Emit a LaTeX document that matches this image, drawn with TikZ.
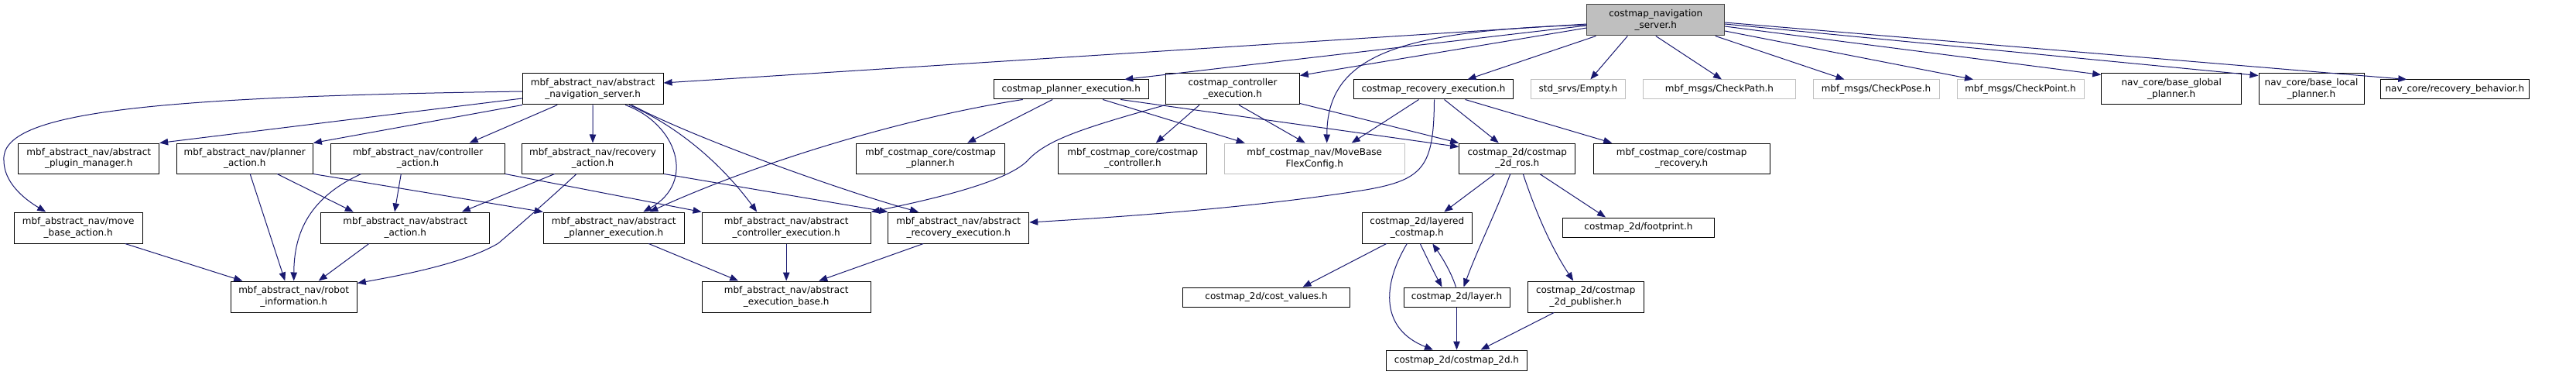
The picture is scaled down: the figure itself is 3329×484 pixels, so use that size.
\documentclass[tikz,border=0pt]{standalone}
\usepackage{fontspec}
\setmainfont{DejaVu Sans}
\usetikzlibrary{arrows.meta,calc}
\definecolor{navy}{HTML}{191970}
\definecolor{lgray}{HTML}{BFBFBF}
\definecolor{dgray}{HTML}{404040}
\begin{document}
\begin{tikzpicture}[x=1pt,y=-1pt,
  box/.style={draw=black,line width=1pt,fill=white,align=center,inner sep=0pt,font=\fontsize{12}{14.5}\selectfont},
  gbox/.style={box,draw=lgray},
  rbox/.style={box,draw=dgray,fill=lgray},
  wh/.style 2 args={minimum width=#1pt,minimum height=#2pt},
  dep/.style={draw=navy,line width=1pt,-{Triangle[length=11pt,width=8.5pt]}}]
\useasboundingbox[fill=white] (0,0) rectangle (3329,484);

% row 0
\node[rbox,wh={177.7}{40}] (root) at (2139.8,26) {costmap\_navigation\\\_server.h};
% row 1
\node[box,wh={181.7}{40}] (ans) at (766.2,115) {mbf\_abstract\_nav/abstract\\\_navigation\_server.h};
\node[box,wh={200.3}{25}] (cpe) at (1384.2,115.5) {costmap\_planner\_execution.h};
\node[box,wh={172.6}{40}] (cce) at (1593,115) {costmap\_controller\\\_execution.h};
\node[box,wh={206.4}{25}] (cre) at (1852.5,115.5) {costmap\_recovery\_execution.h};
\node[gbox,wh={122}{25}] (empty) at (2039.3,115.5) {std\_srvs/Empty.h};
\node[gbox,wh={197.4}{25}] (cpath) at (2222,115.5) {mbf\_msgs/CheckPath.h};
\node[gbox,wh={163}{25}] (cpose) at (2424.5,115.5) {mbf\_msgs/CheckPose.h};
\node[gbox,wh={164}{25}] (cpoint) at (2611,115.5) {mbf\_msgs/CheckPoint.h};
\node[box,wh={181}{40}] (bgp) at (2806.2,115) {nav\_core/base\_global\\\_planner.h};
\node[box,wh={136}{40}] (blp) at (2987,115) {nav\_core/base\_local\\\_planner.h};
\node[box,wh={192}{25}] (rb) at (3172.3,115.5) {nav\_core/recovery\_behavior.h};
% row 2
\node[box,wh={181.7}{39}] (pm) at (114.8,204.5) {mbf\_abstract\_nav/abstract\\\_plugin\_manager.h};
\node[box,wh={176.3}{39}] (pa) at (316.2,204.5) {mbf\_abstract\_nav/planner\\\_action.h};
\node[box,wh={224.6}{39}] (ca) at (540,204.5) {mbf\_abstract\_nav/controller\\\_action.h};
\node[box,wh={183.4}{39}] (ra) at (766,204.5) {mbf\_abstract\_nav/recovery\\\_action.h};
\node[box,wh={191.6}{39}] (ccp) at (1202.5,204.5) {mbf\_costmap\_core/costmap\\\_planner.h};
\node[box,wh={191.7}{39}] (ccc) at (1463.8,204.5) {mbf\_costmap\_core/costmap\\\_controller.h};
\node[gbox,wh={233.3}{39}] (mbfc) at (1698.7,204.5) {mbf\_costmap\_nav/MoveBase\\FlexConfig.h};
\node[box,wh={150.3}{39}] (ros) at (1960.8,204.5) {costmap\_2d/costmap\\\_2d\_ros.h};
\node[box,wh={228.3}{39}] (ccr) at (2173.2,204.5) {mbf\_costmap\_core/costmap\\\_recovery.h};
% row 3
\node[box,wh={165.7}{40}] (mba) at (101.2,294) {mbf\_abstract\_nav/move\\\_base\_action.h};
\node[box,wh={218.3}{40}] (aa) at (523.8,294) {mbf\_abstract\_nav/abstract\\\_action.h};
\node[box,wh={182}{40}] (ape) at (793.3,294) {mbf\_abstract\_nav/abstract\\\_planner\_execution.h};
\node[box,wh={218.3}{40}] (ace) at (1016.2,294) {mbf\_abstract\_nav/abstract\\\_controller\_execution.h};
\node[box,wh={182}{40}] (are) at (1238.7,294) {mbf\_abstract\_nav/abstract\\\_recovery\_execution.h};
\node[box,wh={142}{40}] (lc) at (1831.3,294) {costmap\_2d/layered\\\_costmap.h};
\node[box,wh={196.4}{25}] (fp) at (2117.5,293.5) {costmap\_2d/footprint.h};
% row 4
\node[box,wh={163.3}{40}] (ri) at (379.7,383) {mbf\_abstract\_nav/robot\\\_information.h};
\node[box,wh={218.3}{40}] (aeb) at (1016.2,383) {mbf\_abstract\_nav/abstract\\\_execution\_base.h};
\node[box,wh={216.4}{25}] (cv) at (1636.5,383.5) {costmap\_2d/cost\_values.h};
\node[box,wh={137}{25}] (ly) at (1882.5,383.5) {costmap\_2d/layer.h};
\node[box,wh={150.3}{40}] (pub) at (2049.2,383) {costmap\_2d/costmap\\\_2d\_publisher.h};
% row 5
\node[box,wh={182.4}{26}] (c2d) at (1882.5,465) {costmap\_2d/costmap\_2d.h};

% edges from root
\draw[dep] ($(root.west)+(0,5)$) -- ($(ans.east)+(0,-8)$);
\draw[dep] ($(root.west)+(0,7)$) -- ($(cpe.north)+(69,0)$);
\draw[dep] ($(root.west)+(0,10)$) -- ($(cce.north east)+(0,3)$);
\draw[dep] ($(root.west)+(0,6)$) .. controls (1810,40) and (1715,70) .. ($(mbfc.north)+(16,0)$);
\draw[dep] ($(root.south west)+(12,0)$) -- ($(cre.north)+(44,0)$);
\draw[dep] ($(root.south)+(-36.5,0)$) -- ($(empty.north)+(16,0)$);
\draw[dep] (root.south) -- ($(cpath.north)+(3,0)$);
\draw[dep] ($(root.south)+(77,0)$) -- ($(cpose.north)+(-41,0)$);
\draw[dep] ($(root.east)+(0,14)$) -- ($(cpoint.north)+(-61,0)$);
\draw[dep] ($(root.east)+(0,8)$) -- ($(bgp.north west)+(0,2)$);
\draw[dep] ($(root.east)+(0,5)$) -- ($(blp.north west)+(0,3)$);
\draw[dep] ($(root.east)+(0,3)$) -- ($(rb.north)+(-62,0)$);

% edges from abstract_navigation_server
\draw[dep] ($(ans.west)+(0,3)$) .. controls (190,125) and (0,145) .. (5,207)
  .. controls (5,235) and (30,256) .. ($(mba.north)+(-42,0)$);
\draw[dep] ($(ans.west)+(0,12)$) -- (pm.north east);
\draw[dep] (ans.south west) -- (pa.north east);
\draw[dep] ($(ans.south)+(-46,0)$) -- ($(ca.north)+(66.7,0)$);
\draw[dep] (ans.south) -- (ra.north);
\draw[dep] ($(ans.south)+(42,0)$) .. controls (875,160) and (900,235) .. ($(ape.north)+(38,0)$);
\draw[dep] ($(ans.south)+(47,0)$) .. controls (880,165) and (935,215) .. ($(ace.north)+(-38,0)$);
\draw[dep] ($(ans.south)+(50,0)$) .. controls (900,180) and (1100,250) .. ($(are.north)+(-51.7,0)$);

% planner / controller / recovery action
\draw[dep] ($(pa.south)+(7,0)$) -- ($(ri.north)+(-11.4,0)$);
\draw[dep] ($(pa.south)+(42,0)$) -- ($(aa.north)+(-67,0)$);
\draw[dep] (pa.south east) -- (ape.north west);
\draw[dep] ($(ca.south)+(-73.3,0)$) .. controls (400,255) and (380,300) .. (ri.north);
\draw[dep] ($(ca.south)+(-21.7,0)$) -- ($(aa.north)+(-13.8,0)$);
\draw[dep] (ca.south east) -- (ace.north west);
\draw[dep] ($(ra.south)+(-49.3,0)$) -- ($(aa.north)+(73,0)$);
\draw[dep] ($(ra.south)+(-21,0)$) .. controls (710,257) and (672,290) .. (644,314)
  .. controls (600,340) and (520,355) .. ($(ri.north east)+(0,3)$);
\draw[dep] (ra.south east) -- (are.north west);
\draw[dep] ($(mba.south)+(60.5,0)$) -- ($(ri.north)+(-66.4,0)$);
\draw[dep] ($(aa.south)+(-47,0)$) -- ($(ri.north)+(32,0)$);

% executions
\draw[dep] ($(ape.south)+(45,0)$) -- ($(aeb.north)+(-62,0)$);
\draw[dep] (ace.south) -- (aeb.north);
\draw[dep] ($(are.south)+(-45.4,0)$) -- ($(aeb.north)+(42,0)$);

% costmap planner execution
\draw[dep] ($(cpe.south)+(-62.5,0)$) .. controls (1180,150) and (990,205) .. ($(ape.north)+(46,0)$);
\draw[dep] ($(cpe.south)+(-24,0)$) -- ($(ccp.north)+(47.5,0)$);
\draw[dep] ($(cpe.south)+(41,0)$) -- ($(mbfc.north)+(-90,0)$);
\draw[dep] ($(cpe.south)+(64,0)$) -- ($(ros.north west)+(0,5)$);

% costmap controller execution
\draw[dep] (cce.south west) .. controls (1400,165) and (1355,180) .. (1330,205)
  .. controls (1305,235) and (1200,258) .. (ace.north east);
\draw[dep] ($(cce.south)+(-43,0)$) -- ($(ccc.north)+(30,0)$);
\draw[dep] ($(cce.south)+(8,0)$) -- ($(mbfc.north)+(-12,0)$);
\draw[dep] ($(cce.south east)+(0,-2)$) -- (ros.north west);

% costmap recovery execution
\draw[dep] ($(cre.south)+(-19,0)$) -- ($(mbfc.north)+(48,0)$);
\draw[dep] ($(cre.south)+(14,0)$) -- ($(ros.north)+(-24,0)$);
\draw[dep] ($(cre.south)+(41,0)$) -- ($(ccr.north)+(-90,0)$);
\draw[dep] ($(cre.south)+(1,0)$) .. controls (1853,215) and (1840,232) .. (1765,245)
  .. controls (1620,268) and (1450,280) .. ($(are.east)+(0,-7)$);

% costmap_2d
\draw[dep] ($(ros.south)+(-29,0)$) -- ($(lc.north)+(35,0)$);
\draw[dep] ($(ros.south)+(-9,0)$) .. controls (1935,270) and (1910,320) .. ($(ly.north)+(9,0)$);
\draw[dep] ($(ros.south)+(7.5,0)$) .. controls (1985,275) and (2005,320) .. ($(pub.north)+(-16,0)$);
\draw[dep] ($(ros.south)+(29,0)$) -- ($(fp.north)+(-42.5,0)$);
\draw[dep] ($(lc.south)+(-39.6,0)$) -- ($(cv.north)+(47,0)$);
\draw[dep] ($(lc.south)+(4,0)$) .. controls (1845,335) and (1855,355) .. ($(ly.north)+(-19,0)$);
\draw[dep] ($(lc.south)+(-13,0)$) .. controls (1785,370) and (1785,425) .. ($(c2d.north)+(-30.5,0)$);
\draw[dep] ($(ly.north)+(-1,0)$) .. controls (1875,350) and (1862,330) .. ($(lc.south)+(20,0)$);
\draw[dep] (ly.south) -- (c2d.north);
\draw[dep] ($(pub.south)+(-41,0)$) -- ($(c2d.north)+(31,0)$);
\end{tikzpicture}
\end{document}
